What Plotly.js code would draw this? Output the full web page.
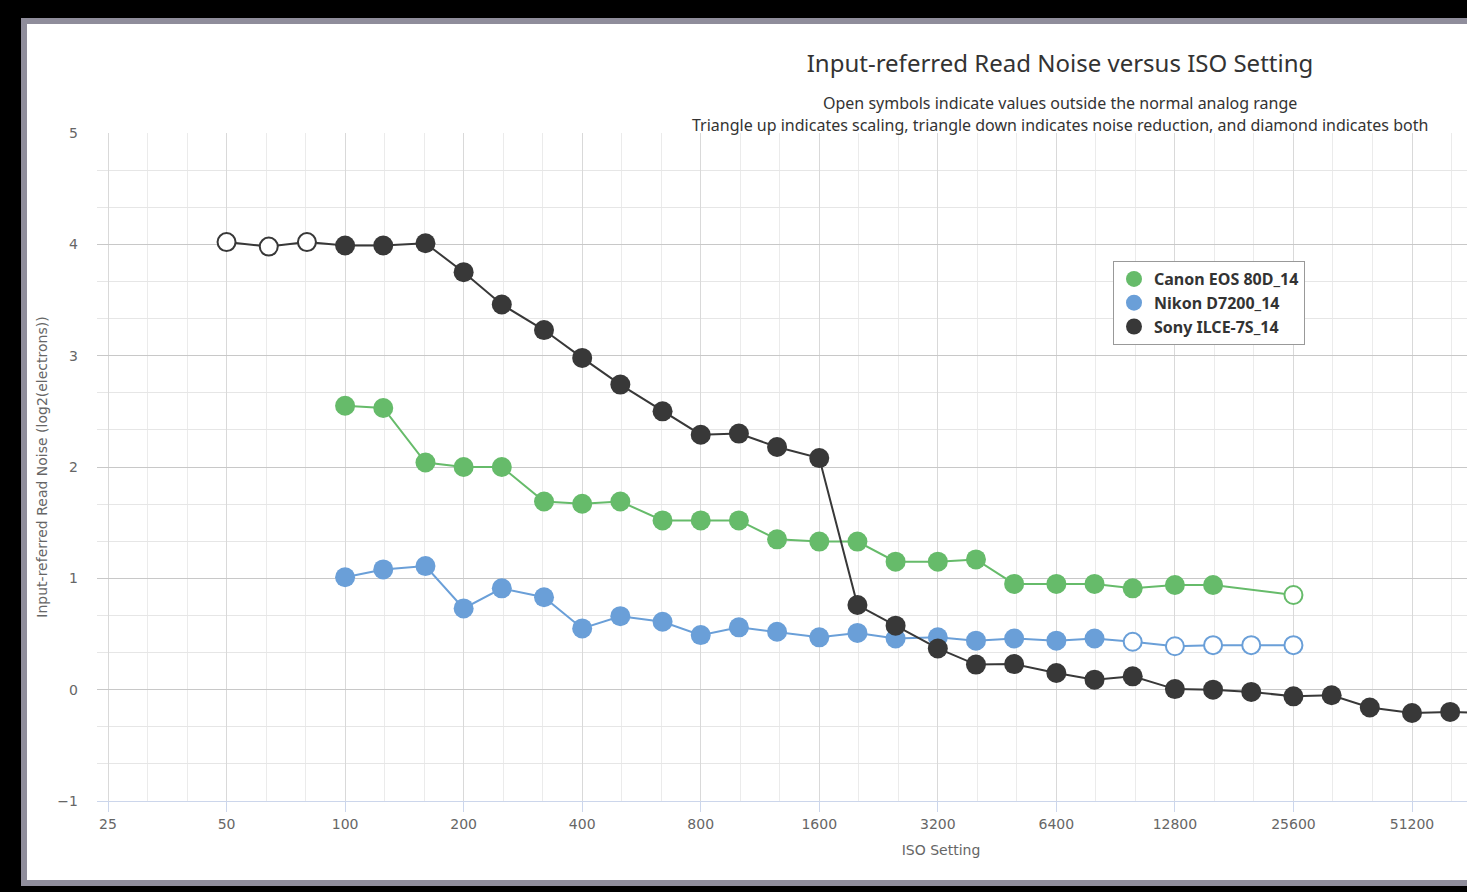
<!DOCTYPE html>
<html>
<head>
<meta charset="utf-8">
<script src="https://cdn.plot.ly/plotly-3.0.1.min.js"></script>
<style>
html, body { margin:0; padding:0; background:#000; overflow:hidden; width:1467px; height:892px; }
#frame { position:absolute; left:21px; top:18px; width:2100px; height:856px; border:6px solid #8f8d9b; background:#fff; }
#chart { position:absolute; left:0; top:0; width:2066px; height:856px; }
</style>
</head>
<body>
<div id="frame"><div id="chart"></div></div>
<script>
// ---- Data ----
const canonIso   = [100,125,160,200,250,320,400,500,640,800,1000,1250,1600,2000,2500,3200,4000,5000,6400,8000,10000,12800,16000,25600];
const canonNoise = [2.55,2.53,2.04,2.00,2.00,1.69,1.67,1.69,1.52,1.52,1.52,1.35,1.33,1.33,1.15,1.15,1.17,0.95,0.95,0.95,0.91,0.94,0.94,0.85];
const canonOpen  = [0,0,0,0,0,0,0,0,0,0,0,0,0,0,0,0,0,0,0,0,0,0,0,1];

const nikonIso   = [100,125,160,200,250,320,400,500,640,800,1000,1250,1600,2000,2500,3200,4000,5000,6400,8000,10000,12800,16000,20000,25600];
const nikonNoise = [1.01,1.08,1.11,0.73,0.91,0.83,0.55,0.66,0.61,0.49,0.56,0.52,0.47,0.51,0.46,0.47,0.44,0.46,0.44,0.46,0.43,0.39,0.40,0.40,0.40];
const nikonOpen  = [0,0,0,0,0,0,0,0,0,0,0,0,0,0,0,0,0,0,0,0,1,1,1,1,1];

const sonyIso   = [50,64,80,100,125,160,200,250,320,400,500,640,800,1000,1250,1600,2000,2500,3200,4000,5000,6400,8000,10000,12800,16000,20000,25600,32000,40000,51200,64000,80000];
const sonyNoise = [4.02,3.98,4.02,3.99,3.99,4.01,3.75,3.46,3.23,2.98,2.74,2.50,2.29,2.30,2.18,2.08,0.76,0.575,0.37,0.225,0.23,0.15,0.09,0.12,0.005,0.00,-0.02,-0.06,-0.05,-0.16,-0.21,-0.20,-0.21];
const sonyOpen  = [1,1,1,0,0,0,0,0,0,0,0,0,0,0,0,0,0,0,0,0,0,0,0,0,0,0,0,0,0,0,0,0,0];

const seriesNames  = ['Canon EOS 80D_14', 'Nikon D7200_14', 'Sony ILCE-7S_14'];
const seriesColors = ['#66bb6a', '#6a9fd8', '#383838'];

const xTickVals = [25,50,100,200,400,800,1600,3200,6400,12800,25600,51200];
const xTickText = xTickVals.map(String);
const yTickVals = [-1,0,1,2,3,4,5];

const titleText = 'Input-referred Read Noise versus ISO Setting';
const subtitle1 = 'Open symbols indicate values outside the normal analog range';
const subtitle2 = 'Triangle up indicates scaling, triangle down indicates noise reduction, and diamond indicates both';
const xTitle = 'ISO Setting';
const yTitle = 'Input-referred Read Noise (log2(electrons))';

// ---- Build traces ----
const allSeries = [
  [canonIso, canonNoise, canonOpen],
  [nikonIso, nikonNoise, nikonOpen],
  [sonyIso, sonyNoise, sonyOpen]
];
const traces = [];
allSeries.forEach(([xs, ys, op], i) => {
  const c = seriesColors[i];
  traces.push({x: xs, y: ys, mode: 'lines', line: {color: c, width: 2}, showlegend: false, hoverinfo: 'skip'});
  const fx = [], fy = [], ox = [], oy = [];
  xs.forEach((v, k) => { if (op[k]) { ox.push(v); oy.push(ys[k]); } else { fx.push(v); fy.push(ys[k]); } });
  traces.push({x: fx, y: fy, mode: 'markers', name: seriesNames[i],
    marker: {size: 20, color: c, line: {width: 0}}, showlegend: true});
  traces.push({x: ox, y: oy, mode: 'markers', name: seriesNames[i],
    marker: {size: 18, color: '#ffffff', line: {color: c, width: 2}}, showlegend: false});
});

// minor gridlines at thirds of a stop (extended a few stops past the last label)
const minorX = [];
for (let k = 0; k < 15; k++) {
  const v = 25 * Math.pow(2, k);
  minorX.push(v * Math.pow(2, 1/3)); minorX.push(v * Math.pow(2, 2/3));
  if (k >= xTickVals.length) minorX.push(v);
}
const minorY = [];
for (let i = -1; i < 5; i++) { minorY.push(i + 1/3); minorY.push(i + 2/3); }

// axis geometry
const pxPerStop = (1412 - 108) / 11;
const plotW = 1688;
const leftLog2 = Math.log2(25) - 11 / pxPerStop;
const rightLog2 = leftLog2 + plotW / pxPerStop;
const L10 = Math.log10(2);

const font = '"Noto Sans", "DejaVu Sans", sans-serif';
const font2 = '"DejaVu Sans", sans-serif';

const layout = {
  width: 2066, height: 856,
  margin: {l: 70, r: 308, t: 109, b: 79},
  paper_bgcolor: '#ffffff', plot_bgcolor: '#ffffff',
  font: {family: font, color: '#666666', size: 13},
  title: {text: titleText, x: 0.5, xref: 'container', xanchor: 'center',
          y: 1 - 40/856, yref: 'container', yanchor: 'middle',
          font: {family: font, size: 24, color: '#333333'}},
  annotations: [
    {text: subtitle1, xref: 'paper', yref: 'paper', x: (1060-97)/plotW, y: (801-103)/668,
     xanchor: 'center', yanchor: 'middle', showarrow: false, font: {family: font, size: 16, color: '#333333'}},
    {text: subtitle2, xref: 'paper', yref: 'paper', x: (1060-97)/plotW, y: (801-125)/668,
     xanchor: 'center', yanchor: 'middle', showarrow: false, font: {family: font, size: 16, color: '#333333'}}
  ],
  xaxis: {
    type: 'log', range: [leftLog2 * L10, rightLog2 * L10],
    tickmode: 'array', tickvals: xTickVals, ticktext: xTickText,
    ticks: 'outside', ticklen: 10, tickcolor: '#ccd6eb', tickwidth: 1,
    showline: true, linecolor: '#ccd6eb', linewidth: 1,
    showgrid: true, gridcolor: '#d9d9d9', gridwidth: 1,
    minor: {tickmode: 'array', tickvals: minorX, showgrid: true, gridcolor: '#ebebeb', ticks: ''},
    tickfont: {family: font2, size: 14, color: '#666666'},
    title: {text: xTitle, font: {family: font2, size: 14, color: '#666666'}, standoff: 14},
    zeroline: false, fixedrange: true
  },
  yaxis: {
    range: [-1, 5], tickmode: 'array', tickvals: yTickVals,
    ticks: '', ticklabelstandoff: 18,
    showgrid: true, gridcolor: '#c8c8c8', gridwidth: 1,
    minor: {tickmode: 'array', tickvals: minorY, showgrid: true, gridcolor: '#e6e6e6', ticks: ''},
    tickfont: {family: font2, size: 14, color: '#666666'},
    title: {text: yTitle, font: {family: font2, size: 14, color: '#666666'}, standoff: 6},
    zeroline: false, showline: false, fixedrange: true
  },
  legend: {x: (1113-97)/plotW, y: (801-261)/668, xanchor: 'left', yanchor: 'top',
           bgcolor: '#ffffff', bordercolor: '#999999', borderwidth: 1,
           font: {family: font, size: 16, color: '#333333', weight: 'bold'}, tracegroupgap: 0},
  showlegend: true
};

Plotly.newPlot('chart', traces, layout, {displayModeBar: false, staticPlot: true});
</script>
</body>
</html>
